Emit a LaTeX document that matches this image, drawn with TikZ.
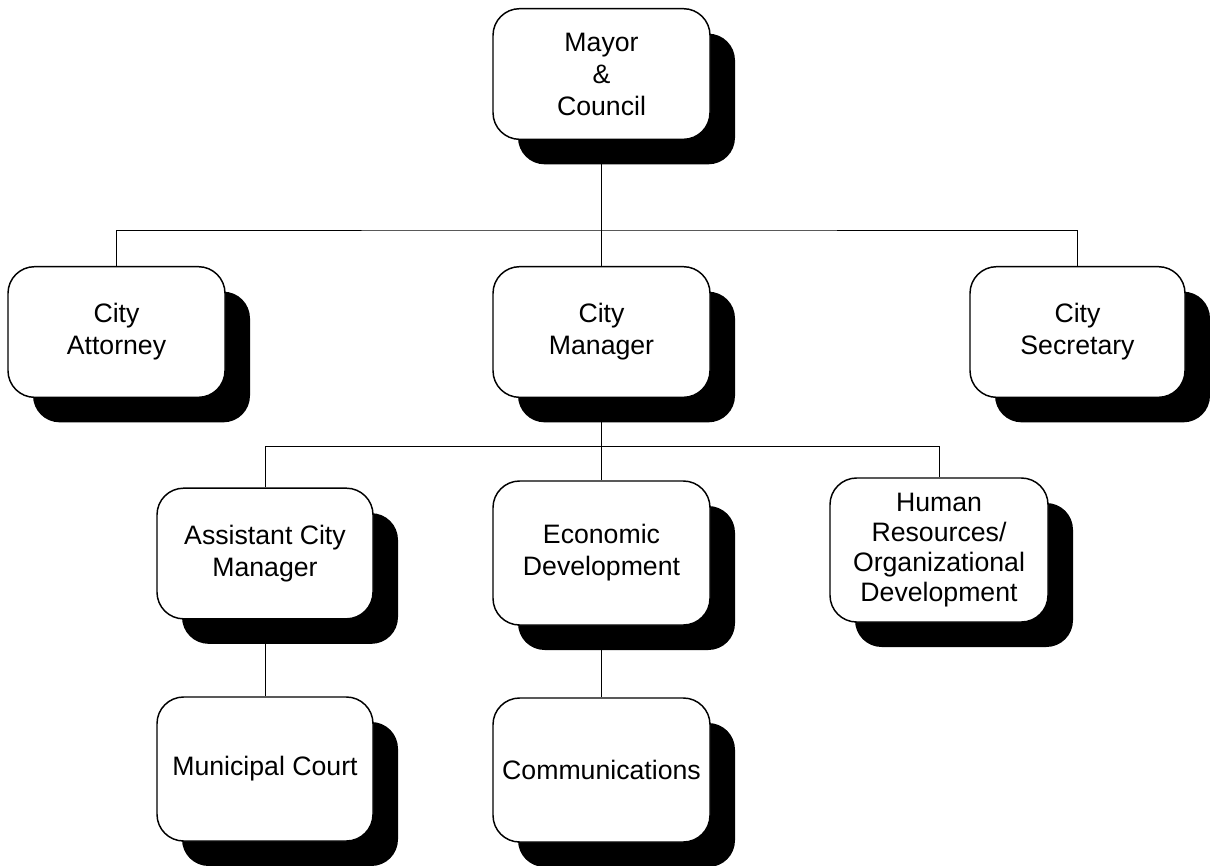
\documentclass[tikz,border=0pt]{standalone}
\usepackage{fontspec}
\setmainfont{Liberation Sans}
\usetikzlibrary{shadows}
\pgfdeclarelayer{bg}
\pgfsetlayers{bg,main}
\begin{document}
\begin{tikzpicture}[x=0.75pt,y=-0.75pt,
  orgbox/.style={draw=black, line width=1.1pt, fill=white, rounded corners=20pt,
    minimum width=162.75pt, minimum height=98pt, inner sep=0pt, align=center,
    font=\fontsize{20}{24}\selectfont,
    drop shadow={opacity=1, fill=black, shadow xshift=18.75pt, shadow yshift=-18.75pt}},
  tallbox/.style={orgbox, minimum height=108pt},
  link/.style={draw=black, line width=0.7pt}]
\useasboundingbox (0,0) rectangle (1210,865);

\node[orgbox] (mayor) at (601.5,74) {Mayor\\\&\\Council};
\node[orgbox] (ca) at (116.5,332) {City\\Attorney};
\node[orgbox] (cm) at (601.5,332) {City\\Manager};
\node[orgbox, minimum width=161.25pt] (cs) at (1077.5,332) {City\\Secretary};
\node[orgbox, minimum width=162pt] (acm) at (265,553.5) {Assistant City\\Manager};
\node[tallbox] (ed) at (601.5,553) {Economic\\Development};
\node[tallbox, minimum width=163.5pt, font=\fontsize{20}{22.5}\selectfont] (hr) at (939,550) {Human\\Resources/\\Organizational\\Development};
\node[tallbox, minimum width=162pt] (mc) at (265,769) {Municipal Court};
\node[tallbox] (comm) at (601.5,770) {Communications};

\coordinate (bus1) at (601.5,230);
\coordinate (bus2) at (601.5,446);

\begin{pgfonlayer}{bg}
\draw[link] (mayor.south) -- (cm.north);
\draw[link] (ca.north) |- (bus1) -| (cs.north);
\draw[link] (cm.south) -- (ed.north);
\draw[link] (acm.north) |- (bus2) -| (hr.north);
\draw[link] (acm.south) -- (mc.north);
\draw[link] (ed.south) -- (comm.north);
\end{pgfonlayer}
\end{tikzpicture}
\end{document}
